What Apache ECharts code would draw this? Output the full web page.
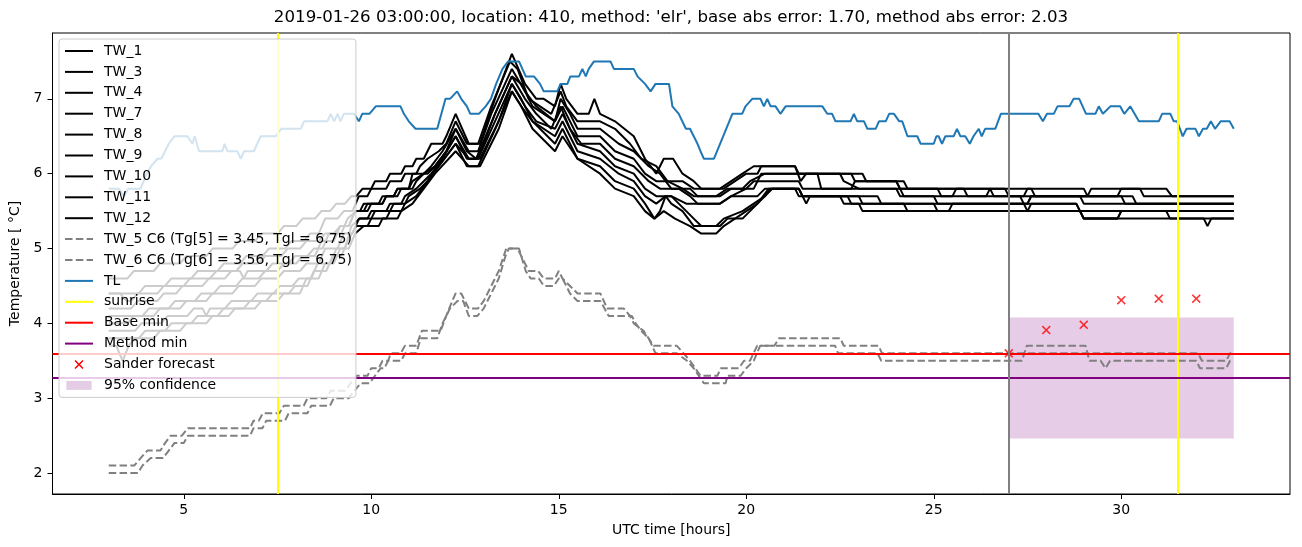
<!DOCTYPE html>
<html>
<head>
<meta charset="utf-8">
<script src="https://cdn.jsdelivr.net/npm/echarts@6/dist/echarts.min.js"></script>
<style>
html,body{margin:0;padding:0;background:#fff;}
#chart{width:1302px;height:547px;}
</style>
</head>
<body>
<div id="chart"></div>
<script>
// ---------------- data ----------------
const titleText = "2019-01-26 03:00:00, location: 410, method: 'elr', base abs error: 1.70, method abs error: 2.03";
const xTicks = [5, 10, 15, 20, 25, 30];
const yTicks = [2, 3, 4, 5, 6, 7];

const TW_1 = [[3,4.6],[3.5,4.6],[3.67,4.7],[4.2,4.7],[4.37,4.8],[4.9,4.8],[5.07,4.9],[5.6,4.9],[5.77,5.0],[6.3,5.0],[6.47,5.1],[6.9,5.1],[7.07,5.2],[7.5,5.2],[7.67,5.3],[8.0,5.3],[8.17,5.4],[8.5,5.4],[8.67,5.5],[8.9,5.5],[9.07,5.6],[9.3,5.6],[9.47,5.7],[9.6,5.7],[9.77,5.8],[10.0,5.8],[10.1,5.9],[10.4,5.9],[10.5,6.0],[10.8,6.0],[10.9,6.1],[11.1,6.1],[11.2,6.2],[11.4,6.2],[11.6,6.4],[11.9,6.4],[12.0,6.5],[12.25,6.8],[12.6,6.4],[12.9,6.4],[13.1,6.7],[13.3,7.0],[13.75,7.6],[14.1,7.2],[14.4,7.0],[14.6,7.0],[14.9,6.9],[15.05,7.2],[15.2,7.0],[15.5,6.8],[15.8,6.8],[15.95,7.0],[16.1,6.8],[16.5,6.7],[17.0,6.5],[17.3,6.2],[17.6,6.0],[17.8,6.2],[18.05,6.2],[18.3,6.0],[18.6,5.9],[18.8,5.8],[19.3,5.8],[19.6,5.9],[19.9,6.0],[20.2,6.1],[21.3,6.1],[21.45,5.9],[21.6,6.0],[22.8,6.0],[22.9,5.9],[24.2,5.9],[24.3,5.8],[25.1,5.8],[25.2,5.7],[25.5,5.7],[25.6,5.8],[27.6,5.8],[27.7,5.7],[29.9,5.7],[30.0,5.8],[31.2,5.8],[31.35,5.7],[33,5.7]];
const TW_3 = [[3,4.4],[3.8,4.4],[3.97,4.5],[4.5,4.5],[4.67,4.6],[5.2,4.6],[5.37,4.7],[5.9,4.7],[6.07,4.8],[6.5,4.8],[6.67,4.9],[7.1,4.9],[7.27,5.0],[7.7,5.0],[7.87,5.1],[8.2,5.1],[8.37,5.2],[8.6,5.2],[8.77,5.4],[9.1,5.4],[9.27,5.5],[9.5,5.5],[9.67,5.7],[9.9,5.7],[10.0,5.8],[10.4,5.8],[10.5,5.9],[10.8,5.9],[10.9,6.0],[11.2,6.0],[11.3,6.1],[11.5,6.2],[11.8,6.3],[12.0,6.4],[12.25,6.7],[12.55,6.4],[12.85,6.4],[13.2,6.9],[13.7,7.5],[13.9,7.4],[14.2,7.0],[14.5,6.9],[14.8,6.8],[15.05,7.1],[15.2,6.9],[15.5,6.7],[16.1,6.7],[16.5,6.6],[16.9,6.4],[17.2,6.2],[17.6,6.1],[17.9,5.9],[18.3,5.9],[18.6,5.8],[19.4,5.8],[19.7,5.9],[20.0,6.0],[20.3,6.0],[20.4,6.1],[21.3,6.1],[21.4,6.0],[23.1,6.0],[23.2,5.9],[24.0,5.9],[24.1,5.8],[26.5,5.8],[26.6,5.7],[27.4,5.7],[27.5,5.8],[29.0,5.8],[29.1,5.7],[29.2,5.8],[30.5,5.8],[30.6,5.7],[33,5.7]];
const TW_4 = [[3,4.4],[3.3,4.4],[3.47,4.3],[3.6,4.3],[3.77,4.4],[4.3,4.4],[4.47,4.5],[5.0,4.5],[5.17,4.6],[5.7,4.6],[5.87,4.7],[6.4,4.7],[6.57,4.8],[7.0,4.8],[7.17,4.9],[7.6,4.9],[7.77,5.0],[8.1,5.0],[8.27,5.1],[8.6,5.1],[8.77,5.2],[9.0,5.2],[9.17,5.3],[9.4,5.3],[9.57,5.5],[9.8,5.5],[9.9,5.6],[10.3,5.6],[10.4,5.7],[10.7,5.7],[10.8,5.8],[11.1,5.8],[11.2,5.9],[11.4,6.0],[11.7,6.1],[12.0,6.3],[12.25,6.6],[12.6,6.3],[12.85,6.3],[13.2,6.8],[13.75,7.4],[14.1,7.1],[14.4,6.9],[14.9,6.7],[15.05,7.0],[15.3,6.8],[15.5,6.6],[16.1,6.6],[16.6,6.4],[17.0,6.3],[17.4,6.1],[17.7,6.0],[18.0,5.8],[18.5,5.8],[18.7,5.7],[19.3,5.7],[19.6,5.8],[19.9,5.8],[20.1,5.9],[20.5,6.0],[22.5,6.0],[22.6,5.9],[23.0,5.8],[24.0,5.8],[24.1,5.7],[25.0,5.7],[25.1,5.6],[27.5,5.6],[27.6,5.7],[28.9,5.7],[29.0,5.6],[33,5.6]];
const TW_7 = [[3,4.2],[3.6,4.2],[3.77,4.3],[4.3,4.3],[4.47,4.4],[4.8,4.4],[4.97,4.5],[5.5,4.5],[5.67,4.6],[6.1,4.6],[6.27,4.7],[6.5,4.7],[6.6,4.6],[6.7,4.7],[7.2,4.7],[7.37,4.8],[7.8,4.8],[7.97,4.9],[8.3,4.9],[8.47,5.0],[8.7,5.0],[8.87,5.2],[9.2,5.2],[9.37,5.4],[9.6,5.5],[9.9,5.5],[10.0,5.6],[10.3,5.6],[10.4,5.7],[10.6,5.7],[10.7,5.8],[11.0,5.8],[11.1,5.9],[11.4,6.0],[11.6,6.1],[11.9,6.3],[12.25,6.6],[12.55,6.3],[12.8,6.2],[13.0,6.4],[13.3,6.8],[13.75,7.3],[14.0,7.2],[14.3,6.9],[14.6,6.8],[14.9,6.7],[15.1,6.9],[15.5,6.5],[16.1,6.5],[16.5,6.3],[17.0,6.2],[17.3,6.0],[17.6,5.9],[17.9,5.9],[18.3,5.8],[18.6,5.7],[19.2,5.7],[19.5,5.8],[20.2,5.8],[20.4,6.0],[21.9,6.0],[22.0,5.8],[22.8,5.8],[22.9,5.9],[24.0,5.9],[24.1,5.8],[25.8,5.8],[25.9,5.7],[26.4,5.7],[26.5,5.8],[26.9,5.8],[27.0,5.7],[30.3,5.7],[30.4,5.6],[33,5.6]];
const TW_8 = [[3,4.1],[3.9,4.1],[4.07,4.2],[4.6,4.2],[4.77,4.3],[5.3,4.3],[5.47,4.4],[5.8,4.4],[5.97,4.5],[6.4,4.5],[6.57,4.6],[7.0,4.6],[7.17,4.7],[7.5,4.7],[7.67,4.8],[8.0,4.8],[8.17,4.9],[8.5,4.9],[8.67,5.1],[9.0,5.1],[9.17,5.3],[9.4,5.3],[9.57,5.5],[9.7,5.5],[9.8,5.6],[10.2,5.6],[10.3,5.7],[10.6,5.7],[10.7,5.8],[11.0,5.8],[11.1,6.0],[11.5,6.0],[11.7,6.1],[12.0,6.3],[12.25,6.5],[12.6,6.2],[12.8,6.2],[13.3,6.8],[13.75,7.3],[14.1,7.0],[14.4,6.8],[14.8,6.6],[15.05,6.9],[15.3,6.6],[15.6,6.4],[16.1,6.4],[16.5,6.2],[17.0,6.1],[17.4,5.9],[17.7,5.8],[18.2,5.8],[18.5,5.7],[18.7,5.6],[19.3,5.6],[19.6,5.7],[20.0,5.8],[20.2,5.9],[21.4,5.9],[21.5,5.8],[24.1,5.8],[24.2,5.7],[27.3,5.7],[27.4,5.6],[28.8,5.6],[28.9,5.5],[33,5.5]];
const TW_9 = [[3,4.0],[3.5,4.0],[3.67,4.1],[4.2,4.1],[4.37,4.2],[4.9,4.2],[5.07,4.3],[5.6,4.3],[5.77,4.4],[6.3,4.4],[6.47,4.5],[6.9,4.5],[7.07,4.6],[7.5,4.6],[7.67,4.7],[8.1,4.7],[8.27,4.8],[8.6,4.8],[8.77,5.0],[9.1,5.0],[9.27,5.2],[9.5,5.2],[9.67,5.4],[9.9,5.4],[10.0,5.5],[10.4,5.5],[10.5,5.6],[10.8,5.6],[10.9,5.7],[11.2,5.8],[11.4,5.9],[11.6,6.0],[11.9,6.2],[12.25,6.5],[12.55,6.2],[12.85,6.2],[13.3,6.7],[13.75,7.2],[14.1,6.9],[14.4,6.7],[14.9,6.6],[15.1,6.8],[15.5,6.4],[16.1,6.3],[16.5,6.1],[17.0,6.0],[17.3,5.8],[17.6,5.7],[18.0,5.7],[18.4,5.6],[19.3,5.6],[19.6,5.7],[20.3,5.7],[20.5,5.8],[21.4,5.8],[21.5,5.7],[23.5,5.7],[23.6,5.6],[25.0,5.6],[25.1,5.5],[27.5,5.5],[27.6,5.6],[28.8,5.6],[28.9,5.5],[29.0,5.4],[29.9,5.4],[30.0,5.5],[33,5.5]];
const TW_10 = [[3,3.9],[3.7,3.9],[3.87,4.0],[4.4,4.0],[4.57,4.1],[5.1,4.1],[5.27,4.2],[5.5,4.2],[5.6,4.1],[5.7,4.2],[6.1,4.2],[6.27,4.3],[6.8,4.3],[6.97,4.4],[7.4,4.4],[7.57,4.5],[7.9,4.5],[8.07,4.6],[8.4,4.6],[8.57,4.8],[8.9,4.8],[9.07,5.0],[9.3,5.0],[9.47,5.3],[9.7,5.4],[10.0,5.4],[10.1,5.5],[10.5,5.5],[10.6,5.6],[10.9,5.6],[11.0,5.7],[11.3,5.8],[11.5,5.9],[11.8,6.1],[12.25,6.4],[12.55,6.1],[12.85,6.1],[13.4,6.7],[13.75,7.2],[14.0,7.0],[14.3,6.7],[14.9,6.5],[15.1,6.7],[15.5,6.3],[16.1,6.2],[16.6,6.0],[17.0,5.9],[17.3,5.7],[17.6,5.6],[17.85,5.7],[18.0,5.6],[18.3,5.5],[18.6,5.3],[19.3,5.3],[19.5,5.4],[19.9,5.4],[20.1,5.5],[20.3,5.6],[20.6,5.8],[21.3,5.8],[21.4,5.7],[22.7,5.7],[22.8,5.6],[24.2,5.6],[24.3,5.5],[28.9,5.5],[29.0,5.4],[32.2,5.4],[32.3,5.3],[32.4,5.4],[33,5.4]];
const TW_11 = [[3,3.8],[3.8,3.8],[3.97,3.9],[4.5,3.9],[4.67,4.0],[5.2,4.0],[5.37,4.1],[5.9,4.1],[6.07,4.2],[6.6,4.2],[6.77,4.3],[7.2,4.3],[7.37,4.4],[7.8,4.4],[7.97,4.5],[8.3,4.5],[8.47,4.7],[8.8,4.7],[8.97,4.9],[9.2,4.9],[9.37,5.1],[9.6,5.3],[9.9,5.3],[10.0,5.4],[10.4,5.4],[10.5,5.5],[10.8,5.5],[10.9,5.6],[11.2,5.7],[11.5,5.9],[11.8,6.1],[12.25,6.4],[12.6,6.2],[12.9,6.2],[13.3,6.6],[13.75,7.1],[14.0,6.9],[14.3,6.7],[14.9,6.4],[15.1,6.6],[15.5,6.2],[16.1,6.1],[16.5,5.9],[17.0,5.8],[17.3,5.6],[17.55,5.4],[17.7,5.5],[17.85,5.7],[18.0,5.7],[18.2,5.6],[18.4,5.5],[18.6,5.4],[18.8,5.3],[19.2,5.3],[19.4,5.4],[19.9,5.5],[20.2,5.6],[20.5,5.7],[20.7,5.8],[21.4,5.8],[21.5,5.7],[22.5,5.7],[22.6,5.6],[23.0,5.6],[23.1,5.5],[25.4,5.5],[25.5,5.6],[27.4,5.6],[27.5,5.5],[28.9,5.5],[29.0,5.4],[29.9,5.4],[30.0,5.5],[31.2,5.5],[31.3,5.4],[33,5.4]];
const TW_12 = [[3,3.7],[3.2,3.7],[3.37,3.5],[3.53,3.7],[3.7,3.8],[4.2,3.8],[4.37,3.9],[4.9,3.9],[5.07,4.0],[5.6,4.0],[5.77,4.1],[6.2,4.1],[6.37,4.2],[6.9,4.2],[7.07,4.3],[7.5,4.3],[7.67,4.4],[8.1,4.4],[8.27,4.6],[8.6,4.6],[8.77,4.8],[9.0,4.8],[9.17,5.0],[9.4,5.0],[9.57,5.2],[9.8,5.3],[10.2,5.3],[10.3,5.4],[10.7,5.4],[10.8,5.5],[11.1,5.6],[11.4,5.8],[11.7,6.0],[12.25,6.3],[12.6,6.1],[12.9,6.1],[13.4,6.6],[13.75,7.1],[14.0,6.9],[14.3,6.6],[14.9,6.3],[15.1,6.5],[15.5,6.2],[16.1,6.0],[16.5,5.8],[17.0,5.7],[17.3,5.5],[17.55,5.4],[17.8,5.5],[18.1,5.4],[18.5,5.3],[18.8,5.2],[19.2,5.2],[19.4,5.3],[19.7,5.4],[20.0,5.5],[20.3,5.6],[20.5,5.7],[20.65,5.8],[21.4,5.8],[21.5,5.7],[21.6,5.6],[21.7,5.7],[23.0,5.7],[23.1,5.6],[27.5,5.6],[27.6,5.7],[30.0,5.7],[30.1,5.6],[33,5.6]];

const TW_5 = [[3.0,2.1],[3.68,2.1],[3.85,2.2],[4.03,2.3],[4.38,2.3],[4.5,2.4],[4.65,2.5],[4.95,2.5],[5.11,2.6],[6.77,2.6],[6.86,2.7],[7.0,2.7],[7.11,2.8],[7.55,2.8],[7.67,2.9],[8.2,2.9],[8.3,3.0],[8.8,3.0],[8.92,3.1],[9.3,3.1],[9.45,3.2],[9.6,3.3],[9.9,3.3],[10.0,3.4],[10.2,3.4],[10.3,3.5],[10.45,3.5],[10.52,3.6],[10.78,3.6],[10.9,3.7],[11.2,3.7],[11.35,3.9],[11.85,3.9],[12.0,4.1],[12.16,4.3],[12.25,4.4],[12.4,4.4],[12.5,4.3],[12.6,4.2],[12.85,4.2],[13.0,4.3],[13.2,4.5],[13.4,4.7],[13.6,5.0],[13.9,5.0],[14.1,4.8],[14.2,4.7],[14.45,4.7],[14.6,4.6],[14.9,4.6],[15.0,4.7],[15.1,4.6],[15.3,4.5],[15.5,4.4],[16.11,4.4],[16.29,4.2],[16.73,4.2],[16.9,4.1],[17.0,4.0],[17.26,3.9],[17.53,3.7],[18.15,3.7],[18.33,3.6],[18.5,3.5],[18.78,3.3],[19.23,3.3],[19.32,3.4],[19.8,3.4],[19.94,3.5],[20.1,3.5],[20.29,3.7],[20.75,3.7],[20.87,3.8],[22.51,3.8],[22.6,3.7],[23.53,3.7],[23.62,3.6],[32.05,3.6],[32.15,3.5],[32.8,3.5],[32.9,3.6],[33.0,3.6]];
const TW_6 = [[3.0,2.0],[3.78,2.0],[3.9,2.1],[4.12,2.2],[4.45,2.2],[4.6,2.3],[4.75,2.4],[5.0,2.4],[5.11,2.5],[6.77,2.5],[6.86,2.6],[7.1,2.6],[7.2,2.7],[7.7,2.7],[7.8,2.8],[8.3,2.8],[8.4,2.9],[8.9,2.9],[9.0,3.0],[9.4,3.0],[9.55,3.1],[9.72,3.2],[9.95,3.2],[10.1,3.3],[10.25,3.4],[10.35,3.4],[10.45,3.5],[10.8,3.5],[10.9,3.6],[11.2,3.6],[11.32,3.8],[11.76,3.8],[11.9,4.0],[12.1,4.2],[12.3,4.3],[12.45,4.3],[12.6,4.1],[12.83,4.1],[13.0,4.2],[13.2,4.4],[13.4,4.6],[13.58,4.9],[13.67,5.0],[13.94,5.0],[14.0,4.9],[14.12,4.7],[14.25,4.6],[14.47,4.6],[14.6,4.5],[14.87,4.5],[15.0,4.6],[15.1,4.6],[15.3,4.4],[15.5,4.3],[16.11,4.3],[16.33,4.1],[16.95,4.1],[17.05,4.0],[17.2,3.9],[17.4,3.8],[17.58,3.6],[18.15,3.6],[18.42,3.5],[18.6,3.4],[18.87,3.2],[19.45,3.2],[19.5,3.3],[19.85,3.3],[20.0,3.4],[20.2,3.5],[20.37,3.7],[22.37,3.7],[22.45,3.6],[23.5,3.6],[23.6,3.5],[27.35,3.5],[27.48,3.7],[29.05,3.7],[29.15,3.5],[29.45,3.5],[29.58,3.4],[29.7,3.5],[32.0,3.5],[32.1,3.4],[32.8,3.4],[32.9,3.5],[33,3.5]];

const TL = [[3.0,5.8],[3.27,5.8],[3.41,5.7],[3.52,5.8],[3.85,5.8],[3.93,5.9],[4.01,6.0],[4.13,6.1],[4.3,6.2],[4.4,6.2],[4.5,6.3],[4.6,6.4],[4.75,6.5],[5.1,6.5],[5.23,6.4],[5.29,6.5],[5.41,6.3],[6.03,6.3],[6.09,6.4],[6.16,6.3],[6.43,6.3],[6.52,6.2],[6.61,6.3],[6.87,6.3],[6.96,6.4],[7.05,6.5],[7.45,6.5],[7.6,6.6],[8.12,6.6],[8.21,6.7],[8.83,6.7],[8.92,6.8],[9.01,6.7],[9.1,6.8],[9.18,6.7],[9.27,6.8],[9.54,6.8],[9.67,6.7],[9.76,6.8],[9.95,6.8],[10.12,6.9],[10.78,6.9],[10.87,6.8],[11.0,6.7],[11.18,6.6],[11.76,6.6],[11.98,7.0],[12.1,7.0],[12.29,7.1],[12.4,7.0],[12.55,6.9],[12.64,6.8],[12.87,6.8],[13.05,6.9],[13.19,7.0],[13.33,7.2],[13.5,7.4],[13.65,7.5],[13.94,7.5],[14.12,7.3],[14.34,7.3],[14.5,7.2],[14.6,7.1],[14.96,7.1],[15.05,7.2],[15.23,7.2],[15.31,7.3],[15.54,7.3],[15.63,7.4],[15.72,7.3],[15.8,7.4],[15.94,7.5],[16.38,7.5],[16.47,7.4],[17.0,7.4],[17.1,7.3],[17.3,7.2],[17.45,7.1],[17.58,7.2],[17.94,7.2],[18.03,6.9],[18.2,6.8],[18.39,6.6],[18.5,6.6],[18.7,6.4],[18.78,6.3],[18.87,6.2],[19.14,6.2],[19.63,6.8],[19.89,6.8],[19.98,6.9],[20.16,7.0],[20.38,7.0],[20.47,6.9],[20.56,7.0],[20.65,6.9],[20.78,6.9],[20.91,6.8],[21.05,6.9],[22.03,6.9],[22.16,6.8],[22.29,6.8],[22.38,6.7],[22.78,6.7],[22.87,6.8],[22.96,6.7],[23.14,6.7],[23.23,6.6],[23.45,6.6],[23.54,6.7],[23.72,6.7],[23.81,6.8],[23.94,6.8],[24.08,6.7],[24.16,6.7],[24.3,6.5],[24.56,6.5],[24.65,6.4],[25.0,6.4],[25.07,6.5],[25.13,6.5],[25.22,6.4],[25.31,6.5],[25.53,6.5],[25.62,6.6],[25.71,6.5],[25.84,6.5],[25.96,6.4],[26.06,6.5],[26.2,6.6],[26.28,6.5],[26.37,6.6],[26.64,6.6],[26.79,6.8],[27.79,6.8],[27.91,6.7],[28.02,6.8],[28.2,6.8],[28.3,6.9],[28.62,6.9],[28.73,7.0],[28.88,7.0],[29.06,6.8],[29.31,6.8],[29.4,6.9],[29.51,6.8],[29.71,6.9],[29.97,6.9],[30.08,6.8],[30.24,6.9],[30.47,6.7],[31.0,6.7],[31.09,6.8],[31.31,6.8],[31.4,6.7],[31.49,6.7],[31.64,6.5],[31.74,6.6],[31.98,6.6],[32.07,6.5],[32.18,6.6],[32.28,6.6],[32.39,6.7],[32.5,6.6],[32.65,6.7],[32.89,6.7],[33.0,6.6]];

const sunriseTimes = [7.5, 31.5];
const forecastStart = 27;
const baseMin = 3.6;
const methodMin = 3.27;
const sanderForecast = [[27,3.6],[28,3.91],[29,3.98],[30,4.31],[31,4.33],[32,4.33]];
const confidence = {x0: 27, x1: 33, low: 2.46, high: 4.08};

const blackNames = ['TW_1','TW_3','TW_4','TW_7','TW_8','TW_9','TW_10','TW_11','TW_12'];
const blackData = [TW_1, TW_3, TW_4, TW_7, TW_8, TW_9, TW_10, TW_11, TW_12];
const dashedNames = ['TW_5 C6 (Tg[5] = 3.45, Tgl = 6.75)', 'TW_6 C6 (Tg[6] = 3.56, Tgl = 6.75)'];
const dashedData = [TW_5, TW_6];

// ---------------- chart ----------------
const FONT = 'DejaVu Sans';
const chart = echarts.init(document.getElementById('chart'), null, {renderer: 'canvas'});
const XPATH = 'path://M0,1.2L1.2,0L5,3.8L8.8,0L10,1.2L6.2,5L10,8.8L8.8,10L5,6.2L1.2,10L0,8.8L3.8,5Z';
const BAND = '#e5cce5';

const series = [];
blackNames.forEach((n, i) => series.push({
  name: n, type: 'line', data: blackData[i], symbol: 'none', color: '#000000',
  lineStyle: {color: '#000000', width: 2}, z: 2
}));
dashedNames.forEach((n, i) => series.push({
  name: n, type: 'line', data: dashedData[i], symbol: 'none', color: '#808080',
  lineStyle: {color: '#808080', width: 2, type: [7.5, 3.3]}, z: 2
}));
series.push({name: 'TL', type: 'line', data: TL, symbol: 'none', color: '#1f77b4',
  lineStyle: {color: '#1f77b4', width: 2}, z: 2});
series.push({name: 'sunrise', type: 'line', data: [], symbol: 'none', color: '#ffff00',
  lineStyle: {color: '#ffff00', width: 2},
  markLine: {silent: true, symbol: ['none','none'], label: {show: false},
    lineStyle: {color: '#ffff00', width: 2, type: 'solid'},
    data: sunriseTimes.map(t => ({xAxis: t}))}, z: 3});
series.push({name: 'Base min', type: 'line', data: [], symbol: 'none', color: '#ff0000',
  lineStyle: {color: '#ff0000', width: 2},
  markLine: {silent: true, symbol: ['none','none'], label: {show: false},
    lineStyle: {color: '#ff0000', width: 2, type: 'solid'}, data: [{yAxis: baseMin}]}, z: 3});
series.push({name: 'Method min', type: 'line', data: [], symbol: 'none', color: '#800080',
  lineStyle: {color: '#800080', width: 2},
  markLine: {silent: true, symbol: ['none','none'], label: {show: false},
    lineStyle: {color: '#800080', width: 2, type: 'solid'}, data: [{yAxis: methodMin}]}, z: 3});
series.push({name: 'forecast start', type: 'line', data: [], symbol: 'none', color: '#808080',
  markLine: {silent: true, symbol: ['none','none'], label: {show: false},
    lineStyle: {color: '#808080', width: 2, type: 'solid'}, data: [{xAxis: forecastStart}]}, z: 3});
series.push({name: 'Sander forecast', type: 'scatter', data: sanderForecast, symbol: XPATH,
  symbolSize: 9, color: '#ff0000', itemStyle: {color: '#ff0000'}, z: 4});
series.push({name: '95% confidence', type: 'line', data: [], symbol: 'none', color: BAND,
  itemStyle: {color: BAND}, lineStyle: {color: BAND},
  markArea: {silent: true, itemStyle: {color: 'rgba(128,0,128,0.2)'},
    data: [[{xAxis: confidence.x0, yAxis: confidence.low}, {xAxis: confidence.x1, yAxis: confidence.high}]]}, z: 1});

const legendNames = blackNames.concat(dashedNames, ['TL', 'sunrise', 'Base min', 'Method min']);
const legendData = legendNames.map(n => ({name: n, itemStyle: {opacity: 0}}));
legendData.push({name: 'Sander forecast', icon: XPATH, itemStyle: {opacity: 1, color: '#ff0000'}});
legendData.push({name: '95% confidence', icon: 'path://M0,0L28,0L28,10L0,10Z', itemStyle: {opacity: 1, color: BAND}});

chart.setOption({
  animation: false,
  backgroundColor: '#ffffff',
  textStyle: {fontFamily: FONT},
  grid: {left: 52.5, right: 12, top: 33, bottom: 53, show: true, borderColor: '#000', borderWidth: 1, backgroundColor: 'transparent'},
  graphic: [{type: 'text', x: 671, y: 18, z: 10,
    style: {text: titleText, font: '16.67px "DejaVu Sans"', fill: '#000', textAlign: 'center', textVerticalAlign: 'middle'}}],
  legend: {
    data: legendData, orient: 'vertical', left: 59, top: 39,
    padding: [5, 4, 5, 5], itemWidth: 28, itemHeight: 9, itemGap: 6.9,
    backgroundColor: 'rgba(255,255,255,0.8)', borderColor: '#cccccc', borderWidth: 1, borderRadius: 3,
    textStyle: {fontFamily: FONT, fontSize: 14, lineHeight: 14, color: '#000', padding: [0, 0, 0, 6]},
    selectedMode: false, z: 20, inactiveColor: '#000'
  },
  xAxis: {
    type: 'value', min: 1.5, max: 34.5,
    name: 'UTC time [hours]', nameLocation: 'middle', nameGap: 29.5,
    nameTextStyle: {fontFamily: FONT, fontSize: 14, color: '#000'},
    axisLine: {show: true, onZero: false, lineStyle: {color: '#000', width: 1}},
    axisTick: {show: true, length: 5, lineStyle: {color: '#000', width: 1}, customValues: xTicks},
    axisLabel: {fontFamily: FONT, fontSize: 14, color: '#000', margin: 9, customValues: xTicks},
    splitLine: {show: false}
  },
  yAxis: {
    type: 'value', min: 1.72, max: 7.88,
    name: 'Temperature [ °C]', nameLocation: 'middle', nameGap: 19, nameRotate: 90,
    nameTextStyle: {fontFamily: FONT, fontSize: 14, color: '#000'},
    axisLine: {show: true, onZero: false, lineStyle: {color: '#000', width: 1}},
    axisTick: {show: true, length: 5, lineStyle: {color: '#000', width: 1}, customValues: yTicks},
    axisLabel: {fontFamily: FONT, fontSize: 14, color: '#000', margin: 10, customValues: yTicks},
    splitLine: {show: false}
  },
  series: series
});
</script>
</body>
</html>
